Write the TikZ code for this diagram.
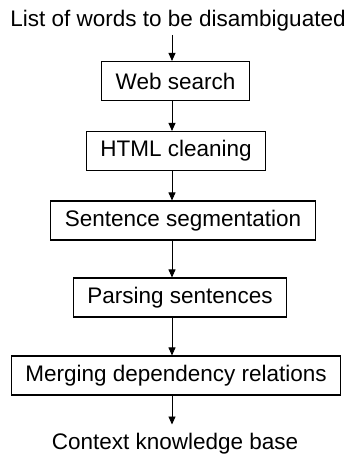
\documentclass[tikz,border=0pt]{standalone}
\usepackage{fontspec}
\setmainfont{Liberation Sans}
\usetikzlibrary{positioning}
\usetikzlibrary{arrows.meta}

\tikzset{
  stage/.style={draw, line width=1.1pt, inner xsep=14pt, minimum height=39pt, font=\fontsize{22.5}{27}\selectfont},
  label/.style={inner sep=0pt, font=\fontsize{22.5}{27}\selectfont},
  flow/.style={line width=0.9pt, -{Triangle[length=8pt,width=7pt]}}
}

\begin{document}
\begin{tikzpicture}[x=1pt,y=-1pt]
      \useasboundingbox (0,0) rectangle (354,457);
      \coordinate (ax) at (172,0);
      \node[label, anchor=base] (words) at (178,27) {List of words to be disambiguated};
      \node[stage] (web) at (175.5,81) {Web search};
      \node[stage] (html) at (176,151) {HTML cleaning};
      \node[stage] (sent) at (183,220.5) {Sentence segmentation};
      \node[stage] (pars) at (180,297.5) {Parsing sentences};
      \node[stage] (merg) at (176,375.5) {Merging dependency relations};
      \node[label, anchor=base] (kb) at (175,449) {Context knowledge base};
      % arrows all on one vertical line
      \draw[flow] ([yshift=-3pt]words.south -| ax) -- (web.north -| ax);
      \draw[flow] (web.south -| ax) -- (html.north -| ax);
      \draw[flow] (html.south -| ax) -- (sent.north -| ax);
      \draw[flow] (sent.south -| ax) -- (pars.north -| ax);
      \draw[flow] (pars.south -| ax) -- (merg.north -| ax);
      \draw[flow] (merg.south -| ax) -- ([yshift=8pt]kb.north -| ax);
\end{tikzpicture}
\end{document}
